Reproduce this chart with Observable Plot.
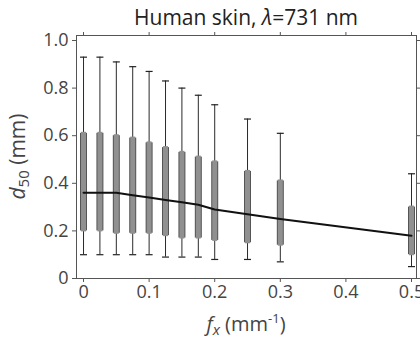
<!DOCTYPE html>
<html>
<head>
<meta charset="utf-8">
<script src="https://cdn.jsdelivr.net/npm/d3@7"></script>
<script src="https://cdn.jsdelivr.net/npm/@observablehq/plot@0.6"></script>
<style>
  html, body { margin: 0; padding: 0; background: #fff; }
  #chart { width: 420px; height: 340px; }
</style>
</head>
<body>
<div id="chart"></div>
<script>
// ---- data ----
const fx          = [0, 0.025, 0.05, 0.075, 0.1, 0.125, 0.15, 0.175, 0.2, 0.25, 0.3, 0.5];
const whiskerHigh = [0.93, 0.93, 0.91, 0.89, 0.87, 0.83, 0.80, 0.77, 0.73, 0.67, 0.61, 0.44];
const quartile3   = [0.61, 0.61, 0.60, 0.59, 0.57, 0.55, 0.53, 0.51, 0.49, 0.45, 0.41, 0.30];
const quartile1   = [0.20, 0.20, 0.19, 0.19, 0.19, 0.18, 0.17, 0.17, 0.16, 0.15, 0.14, 0.10];
const whiskerLow  = [0.10, 0.10, 0.10, 0.10, 0.10, 0.09, 0.09, 0.09, 0.08, 0.08, 0.07, 0.05];
const d50Line     = [0.36, 0.36, 0.36, 0.35, 0.34, 0.33, 0.32, 0.31, 0.29, 0.27, 0.25, 0.18];
const xTicks = [0, 0.1, 0.2, 0.3, 0.4, 0.5];
const yTicks = [0, 0.2, 0.4, 0.6, 0.8, 1.0];
const xTickLabels = ["0", "0.1", "0.2", "0.3", "0.4", "0.5"];
const yTickLabels = ["0", "0.2", "0.4", "0.6", "0.8", "1.0"];

const rows = fx.map((x, i) => ({
  fx: x, hi: whiskerHigh[i], q3: quartile3[i], q1: quartile1[i], lo: whiskerLow[i], d50: d50Line[i]
}));

const font = "'Open Sans', 'DejaVu Sans', sans-serif";
const W = 420, H = 340;
const mL = 76, mR = 4, mT = 35, mB = 62;

const capSymbol = {
  draw(context) { context.moveTo(-3.5, 0); context.lineTo(3.5, 0); }
};

const svg = Plot.plot({
  width: W, height: H,
  marginLeft: mL, marginRight: mR, marginTop: mT, marginBottom: mB,
  style: { fontFamily: font, fontSize: "18px", background: "#fff", color: "#444" },
  x: { domain: [-0.0107, 0.5076] },
  y: { domain: [0, 1.021] },
  marks: [
    // whisker stems
    Plot.ruleX(rows, { x: "fx", y1: "lo", y2: "hi", stroke: "#2a2a2a", strokeWidth: 1 }),
    // whisker caps
    Plot.dot(rows, { x: "fx", y: "hi", symbol: capSymbol, fill: "none", stroke: "#222", strokeWidth: 1.2 }),
    Plot.dot(rows, { x: "fx", y: "lo", symbol: capSymbol, fill: "none", stroke: "#222", strokeWidth: 1.2 }),
    // boxes: outline then fill
    Plot.ruleX(rows, { x: "fx", y1: "q1", y2: "q3", stroke: "#555", strokeWidth: 7 }),
    Plot.ruleX(rows, { x: "fx", y1: "q1", y2: "q3", stroke: "#909090", strokeWidth: 5, insetTop: 1, insetBottom: 1 }),
    // d50 line
    Plot.line(rows, { x: "fx", y: "d50", stroke: "#111", strokeWidth: 2 }),
    // axes
    Plot.axisX({ ticks: xTicks, tickFormat: d => xTickLabels[xTicks.indexOf(d)], tickSize: 4, tickPadding: 3,
                 label: null, stroke: "#555", fill: "#444", fontSize: 18 }),
    Plot.axisX({ anchor: "top", ticks: xTicks, tickFormat: () => "", tickSize: 4, label: null, stroke: "#555" }),
    Plot.axisY({ ticks: yTicks, tickFormat: d => yTickLabels[yTicks.indexOf(d)], tickSize: 4, tickPadding: 4,
                 label: null, stroke: "#555", fill: "#444", fontSize: 18 }),
    Plot.axisY({ anchor: "right", ticks: yTicks, tickFormat: () => "", tickSize: 3, label: null, stroke: "#555" }),
    Plot.frame({ stroke: "#555" })
  ]
});

const s = d3.select(svg);
const cx = (mL + (W - mR)) / 2;

// title
const t = s.append("text").attr("x", cx).attr("y", 25).attr("text-anchor", "middle")
  .attr("font-family", font).attr("font-size", 21).attr("fill", "#222");
t.append("tspan").text("Human skin, ");
t.append("tspan").attr("font-style", "italic").text("λ");
t.append("tspan").text("=731 nm");

// x label
const xl = s.append("text").attr("x", cx).attr("y", 331).attr("text-anchor", "middle")
  .attr("font-family", font).attr("font-size", 20).attr("fill", "#444");
xl.append("tspan").attr("font-style", "italic").text("f");
xl.append("tspan").attr("font-style", "italic").attr("font-size", 15).attr("dy", 4).text("x");
xl.append("tspan").attr("dy", -4).text(" (mm");
xl.append("tspan").attr("font-size", 13).attr("dy", -8).text("-1");
xl.append("tspan").attr("dy", 8).text(")");

// y label
const cy = (mT + (H - mB)) / 2;
const yl = s.append("text").attr("transform", `translate(25,${cy}) rotate(-90)`).attr("text-anchor", "middle")
  .attr("font-family", font).attr("font-size", 21).attr("fill", "#444");
yl.append("tspan").attr("font-style", "italic").text("d");
yl.append("tspan").attr("font-size", 15).attr("dy", 4).text("50");
yl.append("tspan").attr("dy", -4).text(" (mm)");

document.getElementById("chart").appendChild(svg);
</script>
</body>
</html>
